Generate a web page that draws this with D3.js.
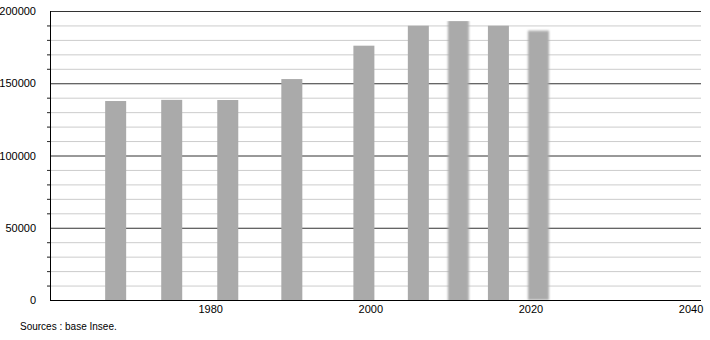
<!DOCTYPE html>
<html lang="fr">
<head>
	<meta charset="UTF-8">
	<script src="https://cdn.jsdelivr.net/npm/d3@7"></script>
	<title>Population</title>
	<style>
		body { margin: 0; background: #fff; font-family: "Liberation Sans", Arial, sans-serif; }
		.axis text { font-size: 11px; fill: #000; font-family: "Liberation Sans", Arial, sans-serif; }
		.source { font-size: 10px; fill: #000; }
	</style>
</head>
<body>
	<div id="chart"></div>
	<script>
		// census years (fractional = census date) and population
		const years = [1968.2, 1975.2, 1982.2, 1990.2, 1999.2, 2006, 2011, 2016, 2021];
		const population = [137700, 138500, 138400, 152900, 176000, 189800, 193000, 189800, 186400];
		const blur = ['0', '0', '0', '0', '0', '0.6 0', '1 0.3', '0.7 0', '1.2 1'];
		const xTicks = [1980, 2000, 2020, 2040];
		const yMajor = [0, 50000, 100000, 150000, 200000];

		const width = 710, height = 340;
		const margin = { top: 11, right: 9, bottom: 40, left: 50 };

		const svg = d3.select('#chart').append('svg')
			.attr('width', width)
			.attr('height', height);

		const x = d3.scaleLinear().domain([1960, 2041.3]).range([margin.left, width - margin.right]);
		const y = d3.scaleLinear().domain([0, 200000]).range([height - margin.bottom, margin.top]);

		const defs = svg.append('defs');
		blur.forEach((b, i) => {
			if (b !== '0') {
				defs.append('filter').attr('id', 'blur' + i)
					.attr('x', '-20%').attr('y', '-5%').attr('width', '140%').attr('height', '110%')
					.append('feGaussianBlur').attr('stdDeviation', b);
			}
		});

		// minor grid every 10000
		const minor = d3.range(10000, 200000, 10000).filter(v => v % 50000 !== 0);
		svg.append('g').selectAll('line').data(minor).enter().append('line')
			.attr('x1', margin.left - 3).attr('x2', width - margin.right)
			.attr('y1', d => y(d) + 0.5).attr('y2', d => y(d) + 0.5)
			.attr('stroke', '#ccc');
		// tick stubs on the axis side
		svg.append('g').selectAll('line').data(minor).enter().append('line')
			.attr('x1', margin.left - 3).attr('x2', margin.left)
			.attr('y1', d => y(d) + 0.5).attr('y2', d => y(d) + 0.5)
			.attr('stroke', '#333');

		// major grid
		svg.append('g').selectAll('line').data(yMajor.slice(1)).enter().append('line')
			.attr('x1', margin.left).attr('x2', width - margin.right)
			.attr('y1', d => y(d) + 0.5).attr('y2', d => y(d) + 0.5)
			.attr('stroke', '#333');

		// bars
		const barW = 21;
		svg.append('g').selectAll('rect').data(years).enter().append('rect')
			.attr('x', d => x(d) - barW / 2)
			.attr('y', (d, i) => y(population[i]))
			.attr('width', barW)
			.attr('height', (d, i) => y(0) - y(population[i]))
			.attr('fill', '#aaaaaa')
			.attr('filter', (d, i) => blur[i] !== '0' ? `url(#blur${i})` : null);

		// axes
		svg.append('line')
			.attr('x1', margin.left + 0.5).attr('x2', margin.left + 0.5)
			.attr('y1', y(200000)).attr('y2', y(0))
			.attr('stroke', '#000');
		svg.append('line')
			.attr('x1', margin.left).attr('x2', width - margin.right)
			.attr('y1', y(0) + 0.5).attr('y2', y(0) + 0.5)
			.attr('stroke', '#000').attr('stroke-width', 1.2);

		const yAxis = d3.axisLeft(y).tickValues(yMajor).tickSize(0).tickPadding(14).tickFormat(d3.format('d'));
		svg.append('g').attr('class', 'axis')
			.attr('transform', `translate(${margin.left},0)`)
			.call(yAxis)
			.call(g => g.select('.domain').remove());

		const xAxis = d3.axisBottom(x).tickValues(xTicks).tickSize(0).tickPadding(5).tickFormat(d3.format('d'));
		svg.append('g').attr('class', 'axis')
			.attr('transform', `translate(0,${y(0)})`)
			.call(xAxis)
			.call(g => g.select('.domain').remove());

		svg.append('text').attr('class', 'source')
			.attr('x', 20).attr('y', 330)
			.text('Sources : base Insee.');
	</script>
</body>
</html>
